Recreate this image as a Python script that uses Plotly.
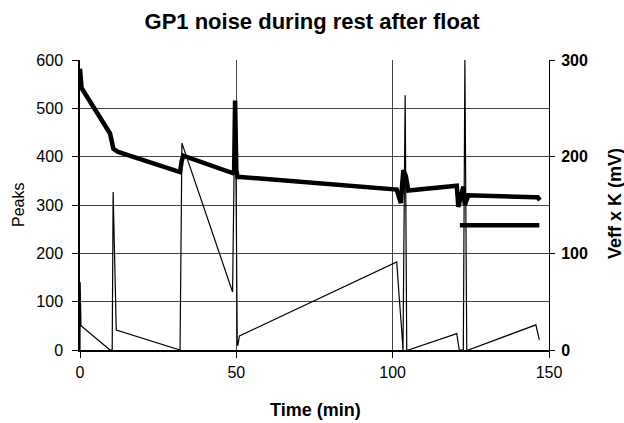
import plotly.graph_objects as go

# Thin series: Peaks (left axis)
t_peaks = [0, 0.05, 0.3, 9.6, 10.3, 10.6, 11.6, 32.0, 32.6, 48.8, 49.3, 49.7, 50.3, 50.5, 51.0,
           101.3, 102.2, 102.6, 102.9, 103.3, 104.0, 104.5, 105.0, 120.5, 121.3, 122.6, 123.1,
           123.7, 124.2, 145.8, 146.9]
peaks = [0, 140, 50, 0, 0, 327, 41, 0, 428, 120, 380, 515, 10, 10, 29,
         182, 100, 50, 40, 0, 527, 0, 0, 34, 0, 0, 600,
         0, 0, 52, 21]

# Thick series: Veff x K (right axis, mV)
t_veff = [0, 0.5, 9.6, 10.7, 12.2, 32.0, 32.5, 33.0, 48.8, 49.3, 49.6, 50.0, 50.4, 51.2,
          101.3, 102.6, 103.4, 104.2, 105.0, 118.3, 120.5, 121.0, 122.6, 123.1, 124.2,
          145.5, 146.4, 147.1]
veff = [291, 271, 224, 208, 205, 184, 195, 201, 183, 186, 258, 186, 179, 179,
        166, 152, 186, 180, 165, 170, 170, 148, 169, 150, 160,
        158, 158, 155]

# Second thick segment
t_veff2 = [121.5, 146.9]
veff2 = [129, 129]

x_ticks = [0, 50, 100, 150]
y_ticks = [0, 100, 200, 300, 400, 500, 600]
y2_ticks = [0, 100, 200, 300]

FONT = "Liberation Sans, Arial, Helvetica, sans-serif"

fig = go.Figure()
fig.add_trace(go.Scatter(x=t_peaks, y=peaks, mode="lines", yaxis="y",
                         line=dict(color="black", width=1.2), showlegend=False))
fig.add_trace(go.Scatter(x=t_veff, y=veff, mode="lines", yaxis="y2",
                         line=dict(color="black", width=4.5), showlegend=False))
fig.add_trace(go.Scatter(x=t_veff2, y=veff2, mode="lines", yaxis="y2",
                         line=dict(color="black", width=4.5), showlegend=False))

fig.update_layout(
    width=624, height=423,
    margin=dict(l=80, r=75, t=60, b=73),
    paper_bgcolor="white", plot_bgcolor="white",
    font=dict(family=FONT, color="black", size=16),
    title=dict(text="<b>GP1 noise during rest after float</b>", x=0.5, xanchor="center",
               xref="container", y=1 - 21 / 423, yref="container", yanchor="middle",
               font=dict(size=22, family=FONT, color="black")),
    xaxis=dict(range=[0, 150], tickvals=x_ticks, showgrid=True, gridcolor="#444", gridwidth=1,
               showline=True, linecolor="black", linewidth=1.5, ticks="outside", ticklen=6,
               tickcolor="black", zeroline=False, tickfont=dict(size=16), ticklabelstandoff=1),
    yaxis=dict(range=[0, 600], tickvals=y_ticks, showgrid=True, gridcolor="#444", gridwidth=1,
               showline=True, linecolor="black", linewidth=1.5, ticks="outside", ticklen=6,
               tickcolor="black", zeroline=False, tickfont=dict(size=16), ticklabelstandoff=6),
    yaxis2=dict(range=[0, 300], tickvals=y2_ticks, overlaying="y", side="right", showgrid=False,
                showline=True, linecolor="black", linewidth=1, ticks="outside", ticklen=5,
                tickcolor="black", zeroline=False,
                tickfont=dict(size=16, weight="bold"), ticklabelstandoff=3),
    annotations=[
        dict(text="Peaks", x=18, y=205, xref="paper", yref="paper", showarrow=False,
             xanchor="center", yanchor="middle", textangle=-90, font=dict(size=16)),
        dict(text="<b>Veff x K (mV)</b>", x=615, y=204, xref="paper", yref="paper",
             xanchor="center", yanchor="middle",
             showarrow=False, textangle=-90, font=dict(size=18)),
        dict(text="<b>Time (min)</b>", x=315, y=410, xref="paper", yref="paper",
             xanchor="center", yanchor="middle",
             showarrow=False, font=dict(size=18)),
    ],
)

# convert pixel annotation positions to paper coordinates
pl, pr, pt, pb = 80, 624 - 75, 60, 423 - 73
for a in fig.layout.annotations:
    px, py = a.x, a.y
    a.x = (px - pl) / (pr - pl)
    a.y = (pb - py) / (pb - pt)

fig.write_html("out.html")
